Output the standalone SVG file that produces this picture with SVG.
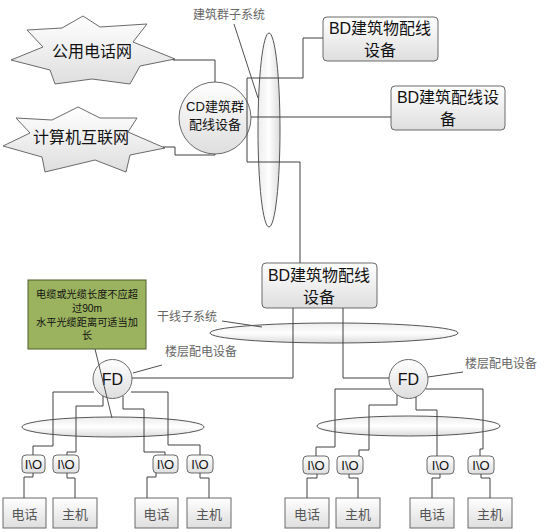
<svg xmlns="http://www.w3.org/2000/svg" width="554" height="532" viewBox="0 0 554 532">
<defs>
<linearGradient id="g" x1="0" y1="0" x2="0" y2="1"><stop offset="0" stop-color="#ffffff"/><stop offset="1" stop-color="#dedede"/></linearGradient>
<linearGradient id="ge" x1="0" y1="0" x2="0" y2="1"><stop offset="0" stop-color="#ececec"/><stop offset="0.5" stop-color="#ffffff"/><stop offset="1" stop-color="#dcdcdc"/></linearGradient>
<linearGradient id="gv" x1="0" y1="0" x2="1" y2="0"><stop offset="0" stop-color="#ececec"/><stop offset="0.5" stop-color="#ffffff"/><stop offset="1" stop-color="#dcdcdc"/></linearGradient>
<style>
.sh{fill:url(#g);stroke:#6a6a6a;stroke-width:1}
.el{fill:url(#ge);stroke:#555;stroke-width:1}
.ln{fill:none;stroke:#404040;stroke-width:1}
.ld{fill:none;stroke:#505050;stroke-width:1}
.t{font-family:"Liberation Sans","Noto Sans CJK SC",sans-serif;text-anchor:middle;dominant-baseline:central;fill:#111}
.lb{font-family:"Noto Sans CJK SC",sans-serif;font-size:12px;dominant-baseline:central;fill:#666}
.tm{font-family:"Noto Sans CJK SC",sans-serif;font-size:13px;text-anchor:middle;dominant-baseline:central;fill:#555}
.io{font-family:"Liberation Sans",sans-serif;font-size:13px;text-anchor:middle;dominant-baseline:central;fill:#111}
</style>
</defs>
<rect width="554" height="532" fill="#ffffff"/>

<g id="subsystem-ellipses">
<ellipse id="campus-ellipse" cx="269" cy="130" rx="11" ry="97" fill="url(#gv)" stroke="#555"/>
<ellipse id="trunk-ellipse" class="el" cx="334" cy="333" rx="124" ry="10"/>
<ellipse id="floor-ellipse-left" class="el" cx="113" cy="427" rx="91" ry="10"/>
<ellipse id="floor-ellipse-right" class="el" cx="408.5" cy="426" rx="91.5" ry="10"/>
</g>

<g id="star-phone">
<polygon class="sh" points="27,30 62,28 83,16 100,27 147,24 133,42 175,59 140,66 130,84 92,79 55,84 50,70 11,60 43,47"/>
<text class="t" x="92" y="51" font-size="16">公用电话网</text>
</g>
<g id="star-internet">
<polygon class="sh" points="16,118 52,120 78,107 100,118 137,118 128,132 165,148 130,155 126,172 95,160 45,172 42,157 3,146 30,133"/>
<text class="t" x="81" y="137" font-size="16">计算机互联网</text>
</g>

<g id="cd">
<circle class="sh" cx="215" cy="118" r="36"/>
<text class="t" x="215" y="106" font-size="13">CD建筑群</text>
<text class="t" x="215" y="124" font-size="13">配线设备</text>
</g>

<g id="bd1">
<rect class="sh" x="323" y="17" width="115" height="44" rx="4"/>
<text class="t" x="380" y="28" font-size="16">BD建筑物配线</text>
<text class="t" x="380" y="50" font-size="16">设备</text>
</g>
<g id="bd2">
<rect class="sh" x="391" y="86" width="114" height="44" rx="4"/>
<text class="t" x="448" y="97" font-size="16">BD建筑配线设</text>
<text class="t" x="448" y="119" font-size="16">备</text>
</g>
<g id="bd3">
<rect class="sh" x="262" y="263" width="115" height="45" rx="4"/>
<text class="t" x="319" y="275" font-size="16">BD建筑物配线</text>
<text class="t" x="319" y="297" font-size="16">设备</text>
</g>

<g id="note">
<rect x="28" y="280" width="118" height="69" fill="#9bb35f" stroke="#4e5e2e"/>
<text class="t" x="87" y="294" font-size="10.2" fill="#333">电缆或光缆长度不应超</text>
<text class="t" x="87" y="308" font-size="10.2" fill="#333">过90m</text>
<text class="t" x="87" y="322" font-size="10.2" fill="#333">水平光缆距离可适当加</text>
<text class="t" x="87" y="335" font-size="10.2" fill="#333">长</text>
</g>

<g id="fd1">
<circle class="sh" cx="112.5" cy="379" r="19.5"/>
<text class="t" x="112.5" y="379" font-size="16">FD</text>
</g>
<g id="fd2">
<circle class="sh" cx="408.5" cy="379" r="19.5"/>
<text class="t" x="408.5" y="379" font-size="16">FD</text>
</g>

<g id="labels">
<text class="lb" x="193" y="13">建筑群子系统</text>
<text class="lb" x="157" y="315">干线子系统</text>
<text class="lb" x="165" y="350">楼层配电设备</text>
<text class="lb" x="465" y="362">楼层配电设备</text>
</g>

<g id="io-left-1"><rect class="sh" x="22" y="455" width="23" height="18" rx="4"/><text class="io" x="33.5" y="464">I\O</text></g>
<g id="io-left-2"><rect class="sh" x="53" y="455" width="26" height="18" rx="4"/><text class="io" x="66" y="464">I\O</text></g>
<g id="io-left-3"><rect class="sh" x="153" y="455" width="25" height="18" rx="4"/><text class="io" x="165.5" y="464">I\O</text></g>
<g id="io-left-4"><rect class="sh" x="187" y="455" width="26" height="18" rx="4"/><text class="io" x="200" y="464">I\O</text></g>
<g id="io-right-1"><rect class="sh" x="303" y="456" width="26" height="18" rx="4"/><text class="io" x="316" y="465">I\O</text></g>
<g id="io-right-2"><rect class="sh" x="337" y="456" width="26" height="18" rx="4"/><text class="io" x="350" y="465">I\O</text></g>
<g id="io-right-3"><rect class="sh" x="427" y="456" width="27" height="18" rx="4"/><text class="io" x="440.5" y="465">I\O</text></g>
<g id="io-right-4"><rect class="sh" x="468" y="456" width="26" height="18" rx="4"/><text class="io" x="481" y="465">I\O</text></g>

<g id="term-left-1"><rect class="sh" x="3" y="498" width="43" height="30"/><text class="tm" x="24.5" y="513">电话</text></g>
<g id="term-left-2"><rect class="sh" x="53" y="498" width="44" height="30"/><text class="tm" x="75" y="513">主机</text></g>
<g id="term-left-3"><rect class="sh" x="135" y="498" width="43" height="30"/><text class="tm" x="156.5" y="513">电话</text></g>
<g id="term-left-4"><rect class="sh" x="187" y="498" width="44" height="30"/><text class="tm" x="209" y="513">主机</text></g>
<g id="term-right-1"><rect class="sh" x="285" y="498" width="44" height="30"/><text class="tm" x="307" y="513">电话</text></g>
<g id="term-right-2"><rect class="sh" x="336" y="498" width="44" height="30"/><text class="tm" x="358" y="513">主机</text></g>
<g id="term-right-3"><rect class="sh" x="410" y="498" width="44" height="30"/><text class="tm" x="432" y="513">电话</text></g>
<g id="term-right-4"><rect class="sh" x="468" y="498" width="44" height="30"/><text class="tm" x="490" y="513">主机</text></g>

<g id="connectors">
<path class="ln" d="M173,60 H215 V82"/>
<path class="ln" d="M163,147 H175 V155 H215 V154"/>
<path class="ln" d="M323,38 H303 V78 H247 V162 H300 V263"/>
<path class="ln" d="M251,117 H391"/>
<path class="ln" d="M293,308 V378 H132"/>
<path class="ln" d="M343,308 V378 H389"/>
<path class="ln" d="M94,392 H53 V446 H33 V455"/>
<path class="ln" d="M103,396 V406 H76 V452 H67 V455"/>
<path class="ln" d="M123,396 V409 H144 V452 H165 V455"/>
<path class="ln" d="M131,392 H168 V445 H200 V455"/>
<path class="ln" d="M391,389 H335 V447 H316 V456"/>
<path class="ln" d="M397,395 V405 H369 V450 H359 V456"/>
<path class="ln" d="M416,397 V410 H437 V456"/>
<path class="ln" d="M426,389 H483 V449 H480 V456"/>
<path class="ln" d="M33,473 V477 H24 V498"/>
<path class="ln" d="M67,473 V478 H75 V498"/>
<path class="ln" d="M156,473 V477 H147 V498"/>
<path class="ln" d="M200,473 V478 H209 V498"/>
<path class="ln" d="M317,474 V478 H307 V498"/>
<path class="ln" d="M349,474 V478 H358 V498"/>
<path class="ln" d="M440,474 V478 H432 V498"/>
<path class="ln" d="M481,474 V478 H490 V498"/>
<path class="ld" d="M234,24 L258,98"/>
<path class="ld" d="M222,321 L262,327"/>
<path class="ld" d="M162,365 L133,373"/>
<path class="ld" d="M463,372 L428,377"/>
<path class="ld" d="M95,349 L112,418"/>
</g>
</svg>
